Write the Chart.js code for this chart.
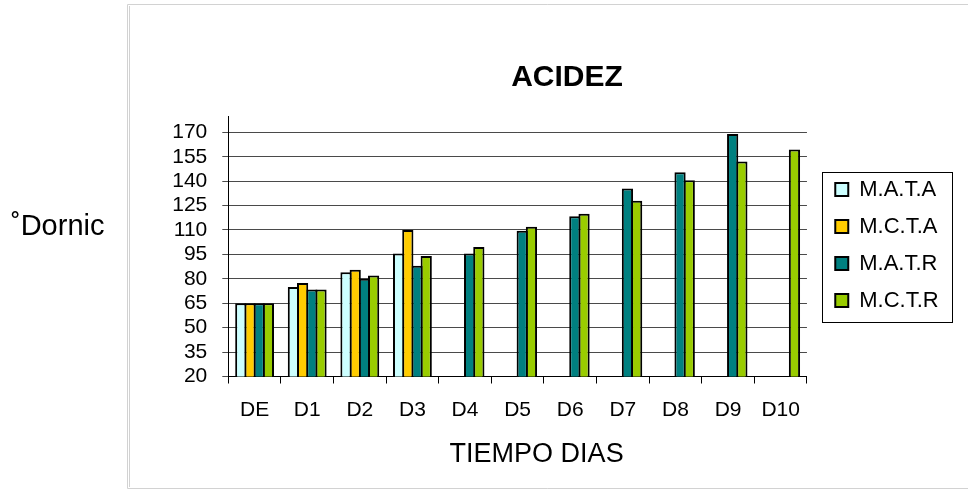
<!DOCTYPE html>
<html>
<head>
<meta charset="utf-8">
<title>ACIDEZ</title>
<script src="https://cdn.jsdelivr.net/npm/chart.js@4.4.1/dist/chart.umd.min.js"></script>
<style>
  html, body { margin: 0; padding: 0; background: #fff; overflow: hidden; }
  canvas { display: block; }
</style>
</head>
<body>
<canvas id="acidez" width="968" height="490"></canvas>
<script>
// Acidity (°Dornic) per day for each sample
const days = ['DE', 'D1', 'D2', 'D3', 'D4', 'D5', 'D6', 'D7', 'D8', 'D9', 'D10'];
const seriesNames = ['M.A.T.A', 'M.C.T.A', 'M.A.T.R', 'M.C.T.R'];
const mata = [65, 75, 84, 95.5, null, null, null, null, null, null, null];
const mcta = [65, 77.5, 85.5, 110, null, null, null, null, null, null, null];
const matr = [65, 73.5, 80, 88, 95.5, 109.5, 118.5, 135.5, 145.5, 169, null];
const mctr = [65, 73.5, 82, 94, 99.5, 112, 120, 128, 140.5, 152, 159.5];
const yTicks = [20, 35, 50, 65, 80, 95, 110, 125, 140, 155, 170];

const seriesValues = [mata, mcta, matr, mctr];
const seriesColors = ['#CCFFFF', '#FFCC00', '#008080', '#99CC00'];

const FONT = "'Liberation Sans', Arial, Helvetica, sans-serif";
Chart.defaults.font.family = FONT;
Chart.defaults.color = '#000';

// Frame, free-standing axis captions and the box around the legend
const decor = {
  id: 'decor',
  beforeDraw(chart) {
    const ctx = chart.ctx;
    ctx.save();
    ctx.fillStyle = '#fff';
    ctx.fillRect(0, 0, chart.width, chart.height);
    ctx.strokeStyle = '#d2d2d2';
    ctx.lineWidth = 1;
    ctx.beginPath();
    ctx.moveTo(chart.width, 4.5);
    ctx.lineTo(127.5, 4.5);
    ctx.lineTo(127.5, 488.5);
    ctx.lineTo(chart.width, 488.5);
    ctx.moveTo(129.5, 6);
    ctx.lineTo(129.5, 487);
    ctx.stroke();
    ctx.restore();
  },
  afterDraw(chart) {
    const ctx = chart.ctx;
    const area = chart.chartArea;
    ctx.save();
    ctx.fillStyle = '#000';
    ctx.textBaseline = 'middle';

    ctx.font = '29px ' + FONT;
    ctx.textAlign = 'left';
    ctx.fillText('˚Dornic', 11, (area.top + area.bottom) / 2 - 19);

    ctx.font = '27px ' + FONT;
    ctx.textAlign = 'center';
    ctx.fillText('TIEMPO DIAS', (area.left + area.right) / 2 + 19, area.bottom + 78);

    const boxes = chart.legend.legendHitBoxes;
    if (boxes && boxes.length) {
      const left = Math.min(...boxes.map(b => b.left)) - 13;
      const right = Math.max(...boxes.map(b => b.left + b.width)) + 14;
      const top = boxes[0].top - 7;
      const last = boxes[boxes.length - 1];
      const bottom = last.top + last.height + 10;
      ctx.strokeStyle = '#000';
      ctx.lineWidth = 1;
      ctx.strokeRect(Math.round(left) + 0.5, Math.round(top) + 0.5,
                     Math.round(right - left), Math.round(bottom - top));
    }
    ctx.restore();
  }
};

// Hidden right-hand axes used only as spacers around the legend
const spacer = (width, weight) => ({
  type: 'linear',
  position: 'right',
  display: false,
  weight: weight,
  afterFit: s => { s.width = width; }
});

new Chart(document.getElementById('acidez'), {
  type: 'bar',
  data: {
    labels: days,
    datasets: seriesNames.map((name, i) => ({
      label: name,
      data: seriesValues[i],
      backgroundColor: seriesColors[i],
      borderColor: '#000',
      borderWidth: 2,
      borderSkipped: false,
      categoryPercentage: 0.70,
      barPercentage: 1.22
    }))
  },
  options: {
    responsive: false,
    animation: false,
    events: [],
    layout: { padding: { left: 166, right: 0, top: 0, bottom: 0 } },
    plugins: {
      tooltip: { enabled: false },
      title: {
        display: true,
        text: 'ACIDEZ',
        font: { size: 30, weight: 'bold' },
        color: '#000',
        padding: { top: 60, bottom: 20 }
      },
      legend: {
        display: true,
        position: 'right',
        align: 'center',
        labels: {
          font: { size: 22 },
          color: '#000',
          boxWidth: 13,
          boxHeight: 13,
          padding: 15
        }
      }
    },
    scales: {
      x: {
        grid: {
          display: true,
          drawOnChartArea: false,
          drawTicks: true,
          tickLength: 7,
          color: '#000',
          offset: true
        },
        border: { display: true, color: '#000', width: 1 },
        ticks: { font: { size: 21 }, color: '#000', padding: 14, maxRotation: 0, autoSkip: false },
        afterFit: s => { s.height = 113.5; }
      },
      y: {
        min: 20,
        max: 180,
        grid: { color: '#4a4a4a', lineWidth: 1, drawTicks: true, tickLength: 6 },
        border: { display: true, color: '#000', width: 1 },
        ticks: { font: { size: 21 }, color: '#000', padding: 15, autoSkip: false },
        afterBuildTicks: s => { s.ticks = yTicks.map(v => ({ value: v })); },
        afterFit: s => { s.width = 62.3; }
      },
      legendGap: spacer(13.3, 0),
      rightMargin: spacer(19.3, 2000)
    }
  },
  plugins: [decor]
});
</script>
</body>
</html>
